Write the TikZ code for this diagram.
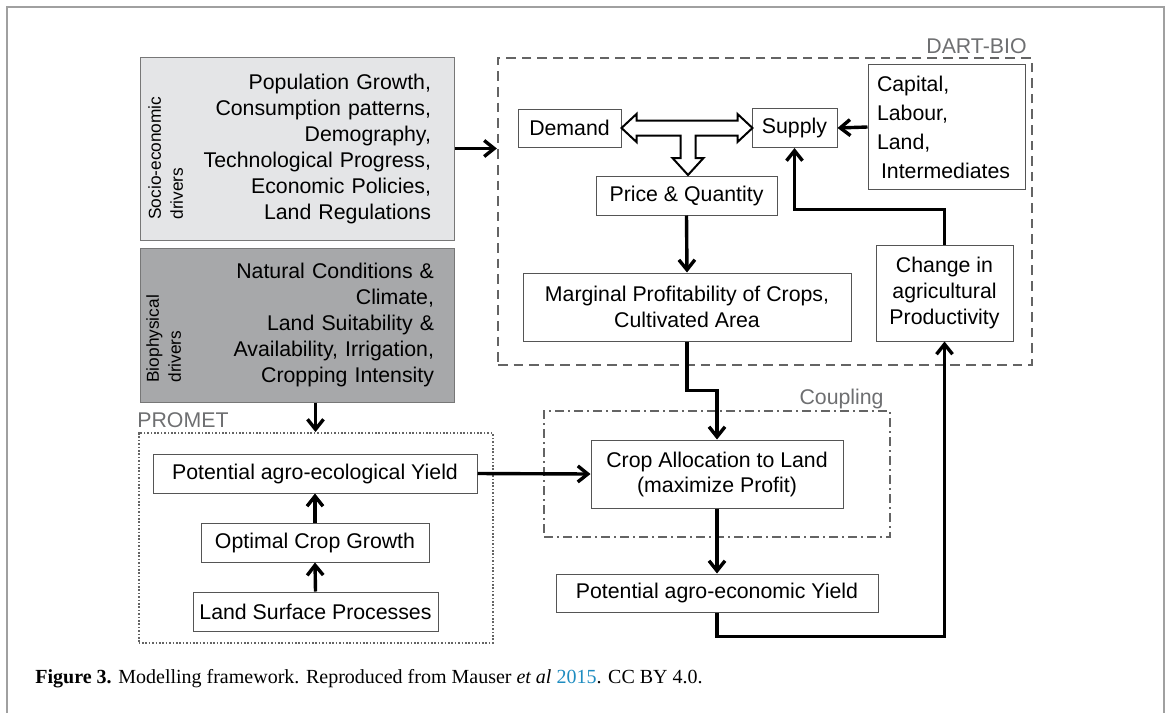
\documentclass[tikz,border=0pt]{standalone}
\usepackage{fontspec}
\setmainfont{Liberation Serif}
\setsansfont{Liberation Sans}
\usepackage{tikz}
\usetikzlibrary{arrows.meta}
\definecolor{socgray}{RGB}{228,229,231}
\definecolor{biogray}{RGB}{167,168,170}
\definecolor{boxline}{RGB}{85,85,85}
\definecolor{framegray}{RGB}{160,160,160}
\definecolor{dashgray}{RGB}{100,100,100}
\definecolor{lblgray}{RGB}{110,111,113}
\definecolor{linkblue}{RGB}{30,140,192}

\begin{document}
\begin{tikzpicture}[x=0.5pt, y=-0.5pt,
  box/.style={draw=boxline, line width=0.5pt, fill=white, inner sep=0pt, align=center,
    font=\sffamily\fontsize{10.65}{13}\selectfont},
  driver/.style={draw=boxline!80, line width=0.5pt, inner ysep=0pt, align=right},
  sidelbl/.style={rotate=90, align=left, inner sep=0pt, font=\sffamily\fontsize{8.65}{11}\selectfont},
  glabel/.style={text=lblgray, inner sep=0pt, font=\sffamily\fontsize{10.65}{13}\selectfont},
  modelbox/.style={draw=dashgray, line width=1.1pt, inner sep=0pt},
  conn/.style={line width=1.7pt, -{Straight Barb[length=5pt,width=8pt]}}
]
\useasboundingbox (0,0) rectangle (1167,713);
\draw [framegray, line width=0.75pt] (7,713) -- (7,7) -- (1164,7) -- (1164,713);

\node [driver, fill=socgray, text width=134pt, inner xsep=11.5pt, minimum height=91.5pt,
  font=\sffamily\fontsize{10.65}{13}\selectfont] (soc) at (297,148.5)
  {Population Growth,\\Consumption patterns,\\Demography,\\Technological Progress,\\Economic Policies,\\Land Regulations};
\node [driver, fill=biogray, text width=137pt, inner xsep=10pt, minimum height=77pt,
  font=\sffamily\fontsize{10.65}{12.9}\selectfont] (bio) at (297,325)
  {Natural Conditions \&\\Climate,\\Land Suitability \&\\Availability, Irrigation,\\Cropping Intensity};
\node [sidelbl, anchor=north west] (soclbl) at (148,220) {Socio-economic\\drivers};
\node [sidelbl, anchor=north west] (biolbl) at (146,383) {Biophysical\\drivers};

\node [modelbox, dash pattern=on 4.8pt off 3pt, minimum width=267pt, minimum height=153.5pt] (dart) at (765,211.5) {};
\node [glabel, anchor=base east] (dartlbl) at (1027,53) {DART-BIO};
\node [modelbox, dash pattern=on 4.5pt off 2.2pt on 0.6pt off 2.2pt, minimum width=173pt, minimum height=63pt] (coup) at (717,474) {};
\node [glabel, anchor=base east] (couplbl) at (884,404) {Coupling};
\node [modelbox, line width=1pt, dash pattern=on 0.8pt off 0.9pt, minimum width=177pt, minimum height=105pt] (prom) at (315.5,538) {};
\node [glabel, anchor=base west] (promlbl) at (137,427) {PROMET};

\node [box, minimum width=51.5pt, minimum height=19pt] (dem) at (569.5,128) {Demand};
\node [box, minimum width=42.5pt, minimum height=19.5pt] (sup) at (794.5,128) {Supply};
\node [box, text width=69.5pt, inner xsep=4.5pt, minimum height=62.5pt, align=left,
  font=\sffamily\fontsize{10.65}{14.5}\selectfont] (cap) at (946.5,127)
  {Capital,\\Labour,\\Land,\\\hspace{2pt}Intermediates};
\node [box, minimum width=90.5pt, minimum height=19.5pt] (price) at (686.5,195.5) {Price \& Quantity};
\node [box, minimum width=164pt, minimum height=34pt] (marg) at (687,307) {Marginal Profitability of Crops,\\Cultivated Area};
\node [box, minimum width=68.5pt, minimum height=48pt] (chg) at (944.5,293) {Change in\\agricultural\\Productivity};
\node [box, minimum width=126pt, minimum height=34pt,
  font=\sffamily\fontsize{10.65}{12.5}\selectfont] (alloc) at (717,474) {Crop Allocation to Land\\(maximize Profit)};
\node [box, minimum width=161pt, minimum height=19pt] (econ) at (717,593) {Potential agro-economic Yield};
\node [box, minimum width=162pt, minimum height=19.5pt] (eco) at (315,473.5) {Potential agro-ecological Yield};
\node [box, minimum width=114pt, minimum height=19.5pt] (opt) at (315,542.5) {Optimal Crop Growth};
\node [box, minimum width=122.5pt, minimum height=19.5pt] (lsp) at (315.5,611.5) {Land Surface Processes};

\draw [fill=white, line width=1pt, line join=miter] (dem.east) -- ++(15,-14) -- ++(0,6.5) -- ++(101,0)
  -- ++(0,-6.5) -- ++(15,14) -- ++(-15,14) -- ++(0,-6.5) -- ++(-42,0) -- ++(0,22.5) -- ++(8,0)
  -- ++(-15.5,17) -- ++(-15.5,-17) -- ++(8,0) -- ++(0,-22.5) -- ++(-44,0) -- ++(0,6.5) -- cycle;

\draw [conn] (soc.east) -- (soc.east -| dart.west);
\draw [conn] (bio.south -| prom.north) -- (prom.north);
\draw [conn] (lsp.north) -- (opt.south);
\draw [conn] (opt.north) -- (eco.south);
\draw [conn] (eco.east) -- (alloc.west);
\draw [conn] (cap.west) -- (sup.east);
\draw [conn] (price.south) -- (marg.north);
\draw [conn] (marg.south) -- ++(0,49) -| (alloc.north);
\draw [conn] (alloc.south) -- (econ.north);
\draw [conn] (econ.south) -- ++(0,24) -| (chg.south);
\draw [conn] (chg.north) -- ++(0,-35) -| (sup.south);

\node [anchor=base west, inner sep=0pt, font=\fontsize{10}{12}\selectfont] (fig) at (35,683)
  {\textbf{Figure 3.} Modelling framework. Reproduced from Mauser \textit{et al} \textcolor{linkblue}{2015}. CC BY 4.0.};
\end{tikzpicture}
\end{document}
